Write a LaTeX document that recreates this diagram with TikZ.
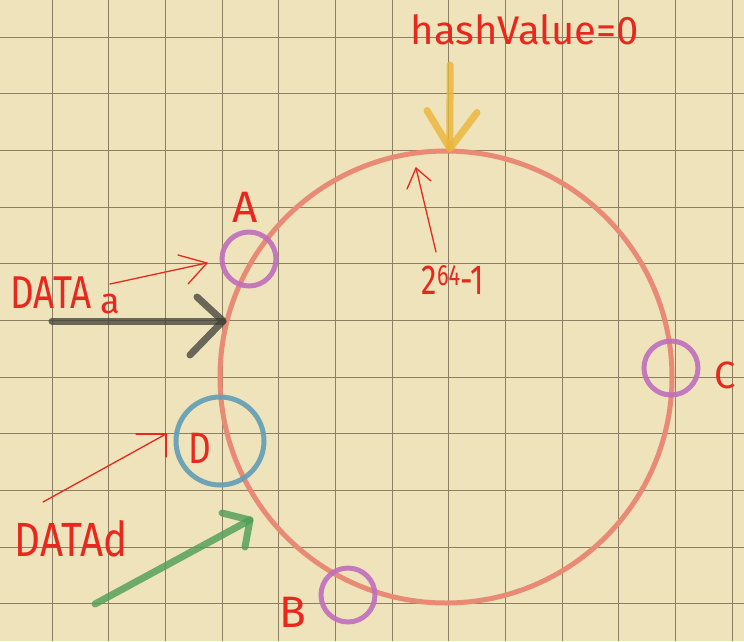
\documentclass[tikz,border=0pt]{standalone}
\usepackage{fontspec}
\setmainfont{Fira Sans}
\usetikzlibrary{calc}
\definecolor{paper}{RGB}{238,227,186}
\definecolor{gridc}{RGB}{140,126,98}
\definecolor{ink}{RGB}{232,40,30}
\definecolor{ringc}{RGB}{232,138,118}
\definecolor{purp}{RGB}{192,110,190}
\definecolor{bluec}{RGB}{98,158,182}
\definecolor{goldc}{RGB}{236,180,55}
\definecolor{greenc}{RGB}{78,158,88}
\definecolor{darkc}{RGB}{62,62,56}
\tikzset{
  gridline/.style={draw=gridc, line width=1pt},
  ringstyle/.style={circle, draw=ringc, line width=5pt, inner sep=0pt, minimum size=452pt},
  server/.style={circle, draw=purp, line width=5pt, inner sep=0pt, minimum size=54pt, draw opacity=0.9},
  dserver/.style={circle, draw=bluec, line width=5pt, inner sep=0pt, minimum size=88pt, draw opacity=0.9},
  lbl/.style={text=ink, inner sep=0pt, font=\fontsize{44}{44}\selectfont},
  bigtxt/.style={text=ink, inner sep=0pt, font=\fontsize{40}{40}\selectfont},
  thinred/.style={draw=ink, line width=1.3pt, line cap=round, line join=round},
  fatarrow/.style={line width=7pt, line cap=round, line join=round},
}
\begin{document}
\begin{tikzpicture}[x=1pt,y=-1pt]
\fill[paper] (0,0) rectangle (744,641);
\useasboundingbox (0,0) rectangle (744,641);
% grid
\foreach \k in {0,...,12} { \draw[gridline] ({52.3+56.65*\k},0) -- ({52.3+56.65*\k},641); }
\foreach \k in {0,...,10} { \draw[gridline] (0,{37.3+56.65*\k}) -- (744,{37.3+56.65*\k}); }
% ring
\node[ringstyle] (ring) at (446,377) {};
% servers
\node[server] (A) at (249,259) {};
\node[server] (B) at (348,595) {};
\node[server] (C) at (671,368) {};
\node[dserver] (D) at (220,441) {};
% labels
\node[lbl] (Alab) at (245,207) {A};
\node[lbl] (Blab) at (293,612) {B};
\node[lbl,font=\fontsize{38}{38}\selectfont] (Clab) at (725,375) {C};
\node[lbl] (Dlab) at (200,448) {\scalebox{0.8}[1]{D}};
\node[bigtxt] (hash) at (525,30) {hashValue=0};
\node[bigtxt,font=\fontsize{46}{46}\selectfont] (dataA) at (51,293) {\scalebox{0.8}[1]{DATA}};
\node[text=ink, inner sep=0pt, font=\fontsize{36}{36}\selectfont] (subA) at (110,304) {a};
\node[bigtxt,font=\fontsize{48}{48}\selectfont] (dataD) at (71,539) {\scalebox{0.84}[1]{DATAd}};
\node[bigtxt,font=\fontsize{42}{42}\selectfont] (maxv) at (453,280) {\scalebox{0.74}[1]{2\textsuperscript{64}-1}};
% coordinates for connectors
\coordinate (yS) at (450,65);
\coordinate (yT) at (ring.89);
\coordinate (kS) at (52,321);
\coordinate (kT) at (223,321);
\coordinate (gS) at (95,604);
\coordinate (gT) at (250,520);
\coordinate (aS) at (110,284);
\coordinate (aT) at (207,263);
\coordinate (mS) at (436,252);
\coordinate (mT) at (416,168);
\coordinate (dS) at (43,502);
\coordinate (dT) at (166,434);
% yellow arrow
\draw[fatarrow, draw=goldc, draw opacity=0.8] (yS) -- (yT);
\draw[fatarrow, draw=goldc, draw opacity=0.8] (yT) ++(-23,-38) -- (yT) -- ++(27,-36);
% black arrow
\draw[fatarrow, draw=darkc, draw opacity=0.75] (kS) -- (kT);
\draw[fatarrow, draw=darkc, draw opacity=0.75] (kT) ++(-26,-24) -- (kT) -- ++(-33,34);
% green arrow
\draw[fatarrow, draw=greenc, draw opacity=0.8] (gS) -- (gT);
\draw[fatarrow, draw=greenc, draw opacity=0.8] (gT) ++(-28,-7) -- (gT) -- ++(-5,27);
% thin red arrows
\draw[thinred] (aS) -- (aT);
\draw[thinred] (aT) ++(-29,-8) -- (aT) -- ++(-19,21);
\draw[thinred] (mS) -- (mT);
\draw[thinred] (mT) ++(-9,21) -- (mT) -- ++(15,13);
\draw[thinred] (dS) -- (dT);
\draw[thinred] (dT) ++(-30,0) -- (dT) -- ++(0,23);
\end{tikzpicture}
\end{document}
